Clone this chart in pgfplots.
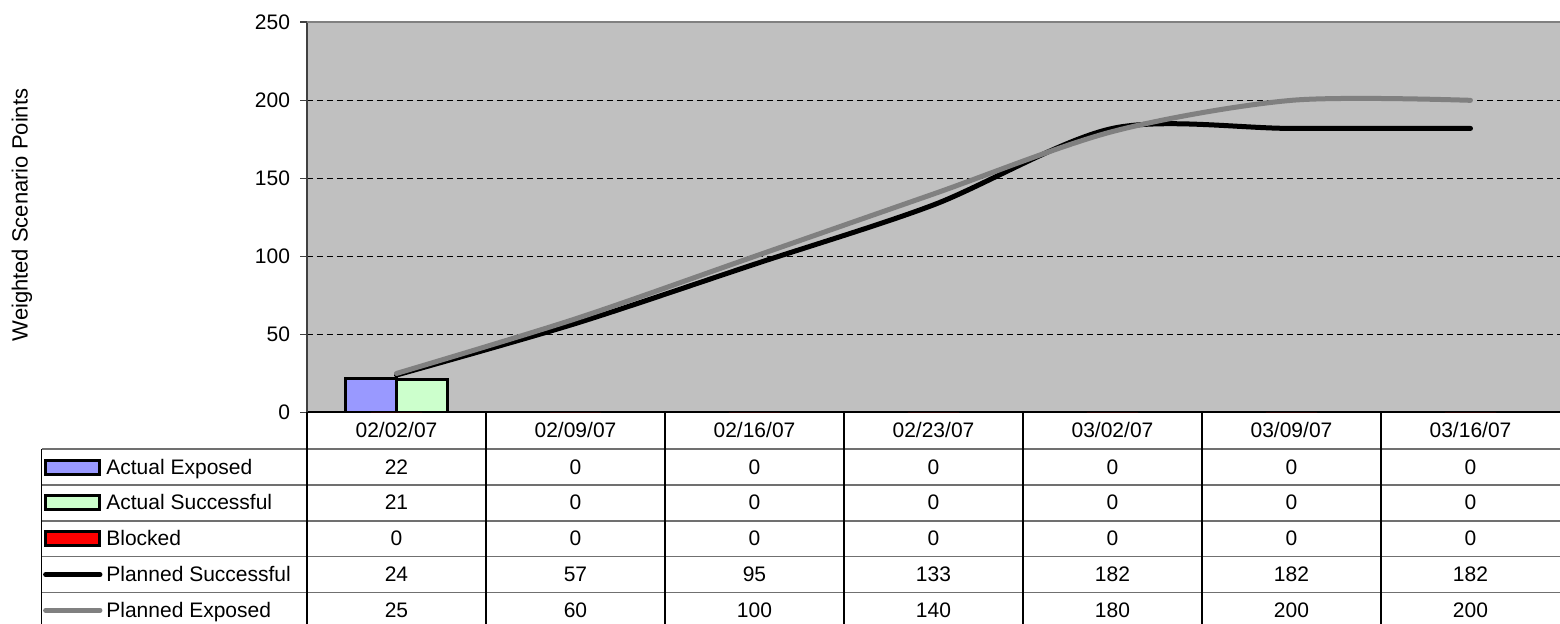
\documentclass[border=0pt]{standalone}
\usepackage{fontspec}
\setmainfont{Liberation Sans}
\usepackage{pgfplots}
\usepackage{pgfplotstable}
\pgfplotsset{compat=1.18}
\definecolor{plotbg}{HTML}{C0C0C0}
\definecolor{aexp}{HTML}{9999FF}
\definecolor{asuc}{HTML}{CCFFCC}
\definecolor{pexp}{HTML}{808080}
\definecolor{rowline}{HTML}{707070}

\pgfplotstableread{
x AE AS BL PS PE
0 22 21 0 24 25
1 0 0 0 57 60
2 0 0 0 95 100
3 0 0 0 133 140
4 0 0 0 182 180
5 0 0 0 182 200
6 0 0 0 182 200
}\data

\begin{document}
\fontsize{10.5}{12.6}\selectfont
\begin{tikzpicture}[font=\fontsize{10.5}{12.6}\selectfont]
\useasboundingbox (-153.5pt,-105.75pt) rectangle (626.5pt,206.25pt);
\begin{axis}[
  at={(0,0)}, anchor=south west,
  scale only axis, width=626.5pt, height=195.1pt,
  xmin=-0.5, xmax=6.5, ymin=0, ymax=250,
  axis x line*=bottom, axis y line*=left,
  x axis line style={-, black, line width=1pt},
  y axis line style={-, black!75, line width=1pt},
  axis background/.style={fill=plotbg},
  xtick=\empty,
  ytick={0,50,100,150,200,250},
  tick align=outside, major tick length=3.3pt,
  ytick style={black!75, line width=0.8pt},
  yticklabel style={xshift=-1.5pt},
  /pgf/number format/assume math mode=true,
  ymajorgrids,
  grid style={black, line width=0.5pt, dash pattern=on 3pt off 2pt},
]
\addplot[ybar, bar width=0.2865, bar shift=-0.1433, fill=aexp, draw=black, line width=1.5pt, restrict y to domain=0.001:1000] table[x=x,y=AE]{\data};
\addplot[ybar, bar width=0.2865, bar shift=0.1433, fill=asuc, draw=black, line width=1.5pt, restrict y to domain=0.001:1000] table[x=x,y=AS]{\data};
\addplot[ybar, bar width=0.2865, bar shift=0, fill=red, draw=none] table[x=x,y=BL]{\data};
\addplot[smooth, black, line width=2.5pt, line cap=round] table[x=x,y=PS]{\data};
\addplot[smooth, pexp, line width=2.5pt, line cap=round] table[x=x,y=PE]{\data};
\end{axis}
% top border
\draw[pexp, line width=1pt] (0,195.1pt) -- (626.5pt,195.1pt);
% y label
\node[rotate=90, font=\fontsize{11}{13}\selectfont] at (-142.5pt, 98.75pt) {Weighted Scenario Points};
% data table grid
\foreach \y in {-18.4,-36.3,-54.2,-72.1,-90.0}
  \draw[rowline, line width=0.8pt] (-132.7pt,\y pt) -- (626.5pt,\y pt);
\foreach \k in {0,...,6}
  \draw[black, line width=0.8pt] (\k*89.5pt,0pt) -- (\k*89.5pt,-106pt);
\draw[black, line width=0.8pt] (-132.7pt,-18.4pt) -- (-132.7pt,-106pt);
% dates
\foreach \d [count=\i from 0] in {02/02/07,02/09/07,02/16/07,02/23/07,03/02/07,03/09/07,03/16/07}
  \node[text height=1.5ex, text depth=0.25ex] at (\i*89.5pt+44.75pt,-9.2pt) {\d};
% legend keys and labels
\draw[fill=aexp, line width=1.5pt] (-130.7pt,-30.85pt) rectangle (-103.5pt,-23.85pt);
\draw[fill=asuc, line width=1.5pt] (-130.7pt,-48.75pt) rectangle (-103.5pt,-41.75pt);
\draw[fill=red, line width=1.5pt] (-130.7pt,-66.65pt) rectangle (-103.5pt,-59.65pt);
\draw[black, line width=2.5pt, line cap=round] (-130.7pt,-81.05pt) -- (-103.5pt,-81.05pt);
\draw[pexp, line width=2.5pt, line cap=round] (-130.7pt,-98.95pt) -- (-103.5pt,-98.95pt);
\foreach \lab/\yy in {Actual Exposed/-27.35, Actual Successful/-45.25, Blocked/-63.15, Planned Successful/-81.05, Planned Exposed/-98.95}
  \node[anchor=west, inner sep=0pt, text height=1.5ex, text depth=0.25ex] at (-100.5pt,\yy pt) {\lab};
% values
\foreach \col/\yy in {AE/-27.35, AS/-45.25, BL/-63.15, PS/-81.05, PE/-98.95}{
  \foreach \r in {0,...,6}{
    \pgfplotstablegetelem{\r}{\col}\of\data
    \node[text height=1.5ex, text depth=0.25ex] at (\r*89.5pt+44.75pt,\yy pt) {\pgfplotsretval};
  }
}
\end{tikzpicture}
\end{document}
